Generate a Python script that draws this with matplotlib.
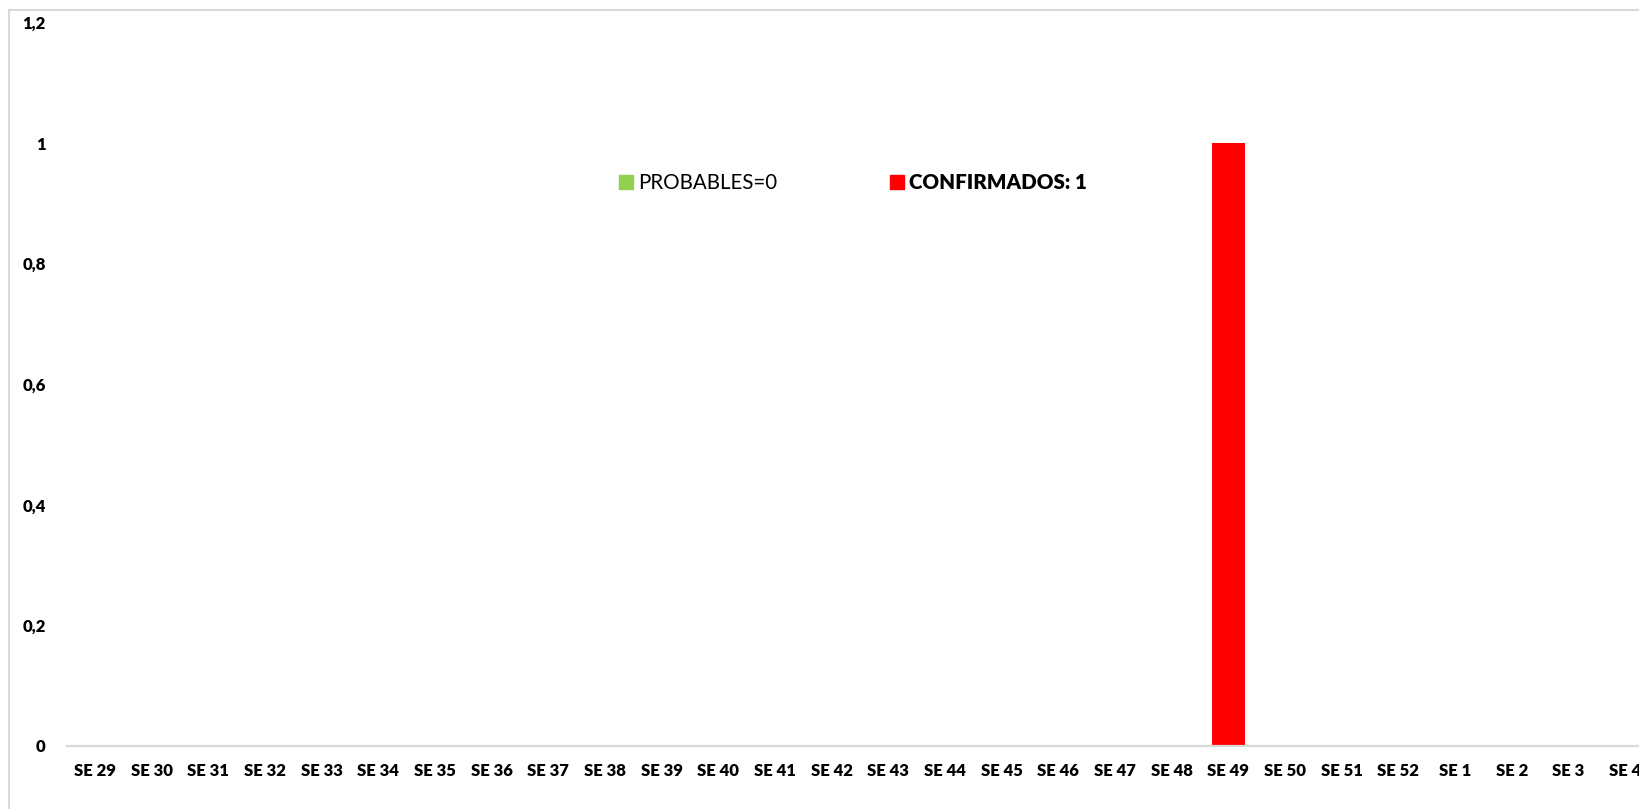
import matplotlib
matplotlib.use("Agg")
import matplotlib.pyplot as plt
from matplotlib.patches import Rectangle
from matplotlib.lines import Line2D

# ---- data ----
weeks = [f"SE {i}" for i in range(29, 53)] + [f"SE {i}" for i in range(1, 5)]
probables = [0] * 28
confirmados = [0] * 20 + [1] + [0] * 7
series_names = ["PROBABLES", "CONFIRMADOS"]
y_ticks = [0, 0.2, 0.4, 0.6, 0.8, 1.0, 1.2]
y_tick_labels = ["0", "0,2", "0,4", "0,6", "0,8", "1", "1,2"]

green = "#92D050"
red = "#FF0000"
grey = "#D9D9D9"

plt.rcParams["font.family"] = ["Lato", "DejaVu Sans"]

W, H = 1639, 809
fig = plt.figure(figsize=(W / 100, H / 100), dpi=100)

x0_px, step_px = 95.0, 56.67
left_px = x0_px - 0.5 * step_px
xmax = 27.5
right_px = x0_px + xmax * step_px
bottom_px, top_px = 746.0, 22.4
ax = fig.add_axes([left_px / W, 1 - bottom_px / H,
                   (right_px - left_px) / W, (bottom_px - top_px) / H])

xs = list(range(len(weeks)))
bw = 0.575
ax.bar(xs, probables, width=bw, color=green, linewidth=0, label=series_names[0])
ax.bar(xs, confirmados, width=bw, color=red, linewidth=0, label=series_names[1])

ax.set_xlim(-0.5, xmax)
ax.set_ylim(0, 1.2)
ax.set_xticks(xs)
ax.set_xticklabels(weeks, fontsize=12, fontweight="heavy")
ax.set_yticks(y_ticks)
ax.set_yticklabels(y_tick_labels, fontsize=12, fontweight="heavy")
ax.tick_params(axis="x", length=0, pad=12.5)
ax.tick_params(axis="y", length=0, pad=15)

for s in ["top", "right", "left"]:
    ax.spines[s].set_visible(False)
ax.spines["bottom"].set_color(grey)
ax.spines["bottom"].set_linewidth(1.6)

# legend
handles = [Rectangle((0, 0), 1, 1, color=green), Rectangle((0, 0), 1, 1, color=red)]
labels = [f"{series_names[0]}={sum(probables)}", f"{series_names[1]}: {sum(confirmados)}"]
leg = fig.legend(handles, labels, loc="center left",
                 bbox_to_anchor=(619 / W, 1 - 183 / H), bbox_transform=fig.transFigure,
                 ncol=2, frameon=False, fontsize=14.8, borderpad=0, borderaxespad=0,
                 handlelength=0.68, handleheight=0.68, handletextpad=0.25,
                 columnspacing=5.5)
leg.get_texts()[1].set_fontweight("heavy")

# chart border (top and left visible)
fig.add_artist(Line2D([9 / W, 1.0], [1 - 10 / H, 1 - 10 / H], color=grey, lw=1.5,
                      transform=fig.transFigure))
fig.add_artist(Line2D([9 / W, 9 / W], [0, 1 - 10 / H], color=grey, lw=1.5,
                      transform=fig.transFigure))

fig.savefig("out.png", dpi=100)
